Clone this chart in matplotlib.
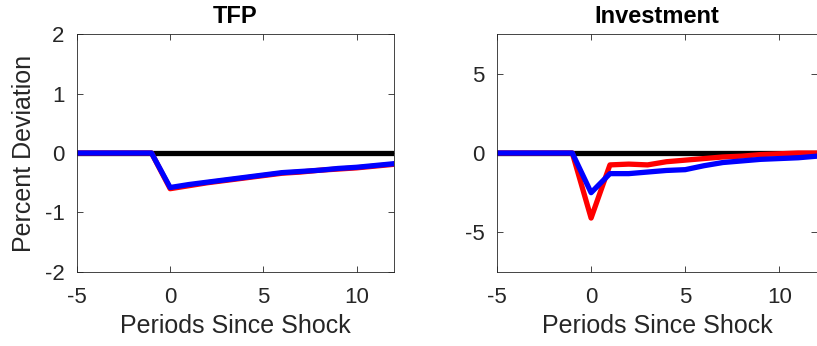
import matplotlib
matplotlib.use("Agg")
import matplotlib.pyplot as plt

periods = list(range(-5, 13))
tfp_red = [0, 0, 0, 0, 0, -0.60, -0.55, -0.50, -0.46, -0.42, -0.38, -0.34, -0.32, -0.29, -0.27, -0.25, -0.22, -0.19]
tfp_blue = [0, 0, 0, 0, 0, -0.58, -0.53, -0.49, -0.45, -0.41, -0.37, -0.33, -0.31, -0.29, -0.26, -0.24, -0.21, -0.18]
inv_red = [0, 0, 0, 0, 0, -4.1, -0.75, -0.7, -0.75, -0.55, -0.45, -0.35, -0.25, -0.2, -0.1, -0.05, 0.0, 0.0]
inv_blue = [0, 0, 0, 0, 0, -2.5, -1.3, -1.3, -1.2, -1.1, -1.05, -0.8, -0.6, -0.5, -0.4, -0.35, -0.3, -0.2]
zero_line = [0] * len(periods)

titles = ["TFP", "Investment"]
ylims = [(-2, 2), (-7.5, 7.5)]
yticks = [[-2, -1, 0, 1, 2], [-5, 0, 5]]
xticks = [-5, 0, 5, 10]

plt.rcParams['font.family'] = ['Liberation Sans', 'DejaVu Sans']
plt.rcParams['axes.unicode_minus'] = False

fig = plt.figure(figsize=(8.17, 3.46), dpi=100)
ax1 = fig.add_axes([0.0942, 0.2139, 0.3878, 0.6878])
ax2 = fig.add_axes([0.6083, 0.2139, 0.3917, 0.6878])

for ax, title, yl, yt, red, blue in zip([ax1, ax2], titles, ylims, yticks,
                                        [tfp_red, inv_red], [tfp_blue, inv_blue]):
    ax.plot(periods, zero_line, color='black', lw=3.8, solid_capstyle='butt')
    ax.plot(periods, red, color='#ff0000', lw=3.8)
    ax.plot(periods, blue, color='#0000ff', lw=3.8)
    ax.set_xlim(-5, 12)
    ax.set_ylim(*yl)
    ax.set_xticks(xticks)
    ax.set_yticks(yt)
    ax.tick_params(direction='in', top=True, right=True, labelsize=16, length=4,
                   color='#262626', labelcolor='#262626', width=0.6, pad=9)
    ax.tick_params(axis='x', pad=11)
    for s in ax.spines.values():
        s.set_color('#262626')
        s.set_linewidth(0.6)
    ax.set_title(title, fontsize=17, fontweight='bold', pad=8)
    ax.set_xlabel('Periods Since Shock', fontsize=18, color='#262626', labelpad=4)

ax1.set_ylabel('Percent Deviation', fontsize=18, color='#262626', labelpad=6)

fig.savefig('out.png', dpi=100)
